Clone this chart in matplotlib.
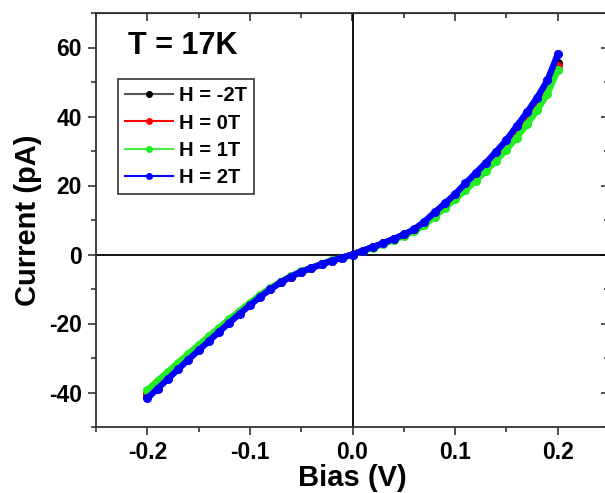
#!/usr/bin/env python3
import matplotlib
matplotlib.use('Agg')
import matplotlib.pyplot as plt
from matplotlib.lines import Line2D
from matplotlib.ticker import MultipleLocator

plt.rcParams['font.family'] = ['Liberation Sans', 'DejaVu Sans']
plt.rcParams['font.weight'] = 'bold'

# bias in V, 0.01 V steps from -0.2 to 0.2
bias = [round(-0.2 + 0.01 * i, 2) for i in range(41)]

# current in pA
i_m2T = [-40.6, -37.9, -35.2, -32.5, -29.8, -27.1, -24.5, -21.9, -19.3, -16.8,
         -14.4, -12.0, -9.9, -8.0, -6.4, -5.0, -3.9, -2.8, -1.8, -0.9,
         0.0, 1.1, 2.1, 3.2, 4.4, 5.7, 7.1, 9.2, 11.8, 14.4,
         17.0, 19.9, 22.8, 25.8, 28.9, 32.3, 36.0, 40.0, 44.2, 49.0, 55.5]
i_0T = [-40.3, -37.6, -34.9, -32.2, -29.5, -26.9, -24.3, -21.7, -19.2, -16.7,
        -14.3, -12.0, -9.9, -8.0, -6.4, -5.0, -3.9, -2.8, -1.8, -0.9,
        0.0, 1.1, 2.1, 3.2, 4.4, 5.6, 7.0, 9.0, 11.6, 14.1,
        16.7, 19.5, 22.4, 25.3, 28.4, 31.7, 35.3, 39.2, 43.4, 48.3, 54.7]
i_1T = [-39.3, -36.6, -34.0, -31.4, -28.8, -26.2, -23.7, -21.2, -18.7, -16.3,
        -14.0, -11.7, -9.7, -7.9, -6.3, -4.9, -3.8, -2.7, -1.7, -0.9,
        0.0, 1.0, 2.0, 3.1, 4.2, 5.4, 6.7, 8.5, 11.0, 13.5,
        16.0, 18.6, 21.4, 24.2, 27.2, 30.4, 33.9, 37.7, 41.8, 46.6, 53.4]
i_2T = [-41.7, -38.9, -36.1, -33.3, -30.5, -27.8, -25.1, -22.4, -19.8, -17.2,
        -14.7, -12.3, -10.1, -8.1, -6.4, -5.0, -3.9, -2.8, -1.8, -0.9,
        0.0, 1.1, 2.2, 3.3, 4.5, 5.8, 7.3, 9.5, 12.2, 14.8,
        17.5, 20.6, 23.6, 26.6, 29.8, 33.2, 37.2, 41.2, 45.5, 50.5, 58.0]

labels = ['H = -2T', 'H = 0T', 'H = 1T', 'H = 2T']
series = [i_m2T, i_0T, i_1T, i_2T]
colors = ['black', 'red', '#22ee22', 'blue']
line_colors = ['#555555', 'red', '#44ee44', 'blue']

fig = plt.figure(figsize=(6.05, 4.93), dpi=100)
ax = fig.add_axes([96 / 605, 1 - 427 / 493, 513 / 605, 414 / 493])

ax.axhline(0, color='black', lw=1.3, zorder=1)
ax.axvline(0, color='black', lw=1.3, zorder=1)

for y, c in zip(series, colors):
  ax.plot(bias, y, '-o', color=c, lw=4.5, ms=5.5, zorder=2)

ax.set_xlim(-0.25, 0.25)
ax.set_ylim(-50, 70)
ax.xaxis.set_minor_locator(MultipleLocator(0.05))
ax.yaxis.set_minor_locator(MultipleLocator(10))
ax.set_xticks([-0.2, -0.1, 0.0, 0.1, 0.2])
ax.set_xticklabels(['-0.2', '-0.1', '0.0', '0.1', '0.2'])
ax.set_yticks([-40, -20, 0, 20, 40, 60])
ax.set_yticklabels(['-40', '-20', '0', '20', '40', '60'])

ax.tick_params(which='major', direction='out', length=6, width=1.2,
               labelsize=16.5, pad=4, color='#333333')
ax.tick_params(which='minor', direction='out', length=3.5, width=1.2, color='#333333')
for s in ax.spines.values():
  s.set_linewidth(1.3)
  s.set_color('#333333')

# inward ticks on top and right
top = ax.secondary_xaxis('top')
top.xaxis.set_major_locator(MultipleLocator(0.1))
top.xaxis.set_minor_locator(MultipleLocator(0.05))
top.tick_params(which='major', direction='in', length=6, width=1.2, labeltop=False, color='#333333')
top.tick_params(which='minor', direction='in', length=3.5, width=1.2, color='#333333')
right = ax.secondary_yaxis('right')
right.yaxis.set_major_locator(MultipleLocator(20))
right.yaxis.set_minor_locator(MultipleLocator(10))
right.tick_params(which='major', direction='in', length=6, width=1.2, labelright=False, color='#333333')
right.tick_params(which='minor', direction='in', length=3.5, width=1.2, color='#333333')

ax.set_xlabel('Bias (V)', fontsize=21, fontweight='bold', labelpad=0)
ax.set_ylabel('Current (pA)', fontsize=21, fontweight='bold', labelpad=5)

ax.text(0.062, 0.900, 'T = 17K', transform=ax.transAxes, fontsize=22,
        fontweight='bold', va='baseline', ha='left')

handles = [Line2D([], [], color=lc, lw=1.5, marker='o', ms=4,
                  markerfacecolor=c, markeredgecolor=c)
           for lc, c in zip(line_colors, colors)]
leg = ax.legend(handles, labels, loc='upper left',
                bbox_to_anchor=(118 / 605, 1 - 79 / 493),
                bbox_transform=fig.transFigure, borderaxespad=0,
                fontsize=14.5, handlelength=2.4, handletextpad=0.3,
                labelspacing=0.42, borderpad=0.35, fancybox=False,
                framealpha=1, edgecolor='#333333')
leg.get_frame().set_linewidth(1.2)

fig.savefig('out.png', dpi=100)
